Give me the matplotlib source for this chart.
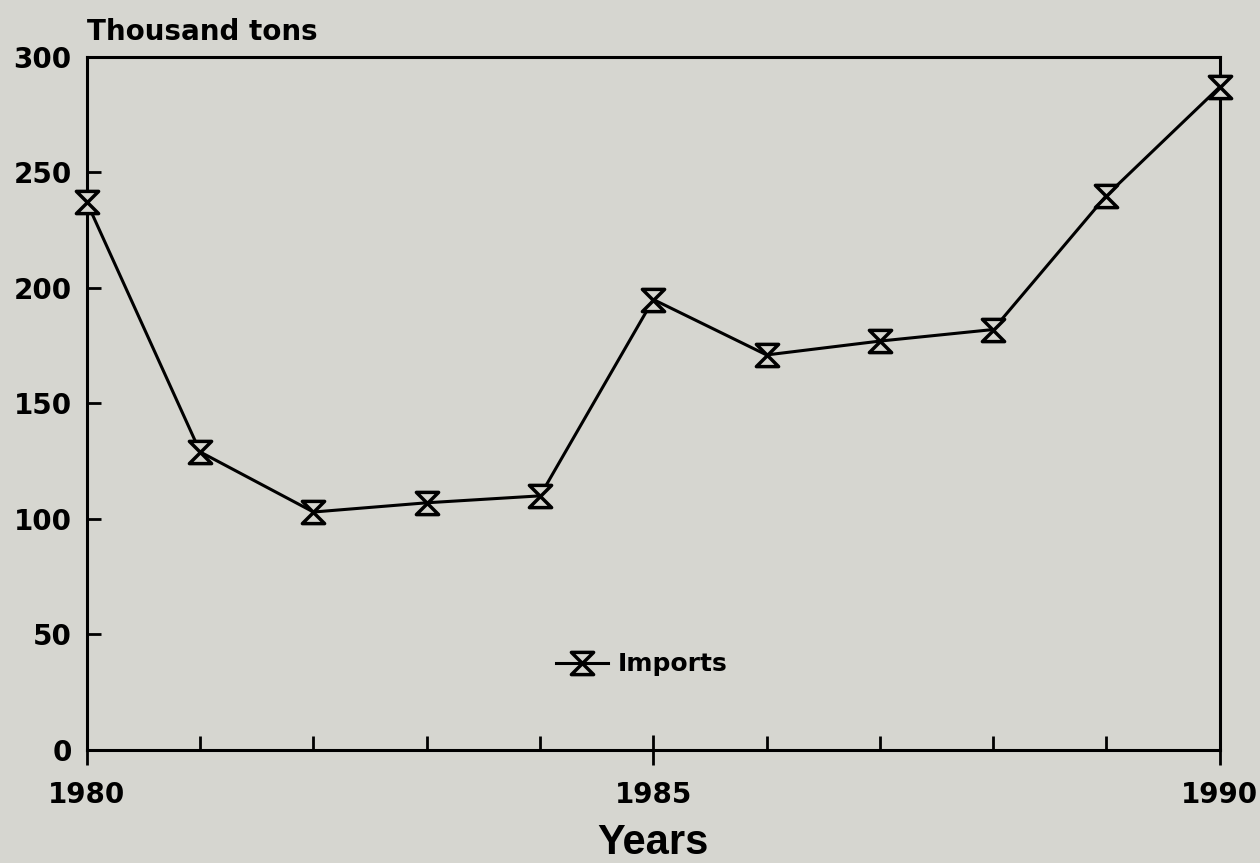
import numpy as np
import matplotlib.pyplot as plt
from matplotlib.path import Path
from matplotlib.ticker import MultipleLocator

years = [1980, 1981, 1982, 1983, 1984, 1985, 1986, 1987, 1988, 1989, 1990]
imports = [237, 129, 103, 107, 110, 195, 171, 177, 182, 240, 287]
y_ticks = [0, 50, 100, 150, 200, 250, 300]
x_labels = [1980, 1985, 1990]

bg = '#d6d6d0'
# hourglass marker, like the old plotter symbol
hourglass = Path([(-1, 1), (1, 1), (-1, -1), (1, -1), (-1, 1)],
                 [Path.MOVETO, Path.LINETO, Path.LINETO, Path.LINETO, Path.CLOSEPOLY])

fig = plt.figure(figsize=(12.6, 8.63), dpi=100, facecolor=bg)
ax = fig.add_axes([0.069, 0.131, 0.899, 0.803])
ax.set_facecolor(bg)

ax.plot(years, imports, color='black', lw=2.2, marker=hourglass, markersize=16,
        markerfacecolor=bg, markeredgecolor='black', markeredgewidth=2.5,
        clip_on=False, zorder=5, label='Imports')

ax.set_xlim(1980, 1990)
ax.set_ylim(0, 300)
ax.set_yticks(y_ticks)
ax.set_xticks(x_labels)
ax.xaxis.set_minor_locator(MultipleLocator(1))

for s in ax.spines.values():
    s.set_linewidth(2.2)

bold = dict(family='DejaVu Sans', weight='bold', size=20)
ax.set_yticklabels([str(v) for v in y_ticks], fontdict=bold)
ax.set_xticklabels([str(v) for v in x_labels], fontdict=bold)
ax.tick_params(axis='y', direction='in', length=10, width=2, pad=11)
ax.tick_params(axis='x', which='major', direction='inout', length=21, width=2, pad=12)
ax.tick_params(axis='x', which='minor', direction='in', length=10, width=2)

ax.set_xlabel('Years', family='Liberation Sans', weight='bold', size=30, labelpad=10)
ax.annotate('Thousand tons', xy=(0, 1), xycoords='axes fraction', xytext=(0, 8),
            textcoords='offset points', ha='left', va='bottom', **bold)

ax.legend(loc='center left', bbox_to_anchor=(0.394, 0.1235), frameon=False,
          prop=dict(family='DejaVu Sans', weight='bold', size=18),
          handlelength=2.1, handletextpad=0.4)

fig.savefig('out.png', dpi=100, facecolor=bg)
